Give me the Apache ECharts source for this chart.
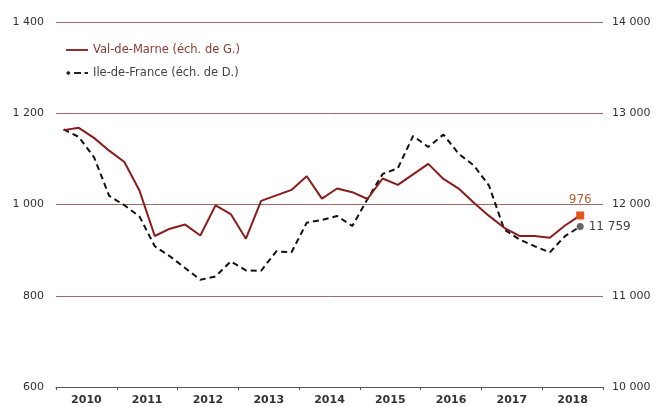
<!DOCTYPE html>
<html><head><meta charset="utf-8">
<script src="https://cdn.jsdelivr.net/npm/echarts@6/dist/echarts.min.js"></script>
<style>html,body{margin:0;padding:0;background:#fff}#c{width:656px;height:407px}</style>
</head><body><div id="c"></div>
<script>
var years = ['2010','2011','2012','2013','2014','2015','2016','2017','2018'];
var quarters = [];
years.forEach(function(y){ for (var q=1;q<=4;q++) quarters.push(y+'T'+q); });
var valDeMarne = [1163,1168,1146,1118,1093,1030,931,947,956,932,998,979,925,1008,1020,1032,1062,1013,
  1035,1027,1012,1057,1043,1066,1089,1056,1035,1004,975,949,931,931,927,954,976,null];
var ileDeFrance = [12824,12740,12519,12095,11992,11867,11543,11432,11304,11175,11211,11377,11278,11274,11487,11476,11801,11830,
  11874,11764,12059,12335,12398,12751,12630,12766,12556,12427,12206,11727,11617,11543,11476,11653,11759,null];
var leftTicks = [600,800,1000,1200,1400];
var rightTicks = [10000,11000,12000,13000,14000];
var labelVal = '976', labelIdf = '11 759';

function fmt(v){ return String(v).replace(/\B(?=(\d{3})+(?!\d))/g,' '); }
var font = 'DejaVu Sans';
var last = 34;
var valData = valDeMarne.map(function(v,i){
  if (i===last) return {value:v, symbol:'rect', symbolSize:8, itemStyle:{color:'#e2571e'},
    label:{show:true, position:'top', distance:6, formatter:labelVal, color:'#b8602e', fontSize:12, fontFamily:font}};
  return v;
});
var idfData = ileDeFrance.map(function(v,i){
  if (i===last) return {value:v, symbol:'circle', symbolSize:7, itemStyle:{color:'#666'},
    label:{show:true, position:'right', distance:5, formatter:labelIdf, color:'#444', fontSize:12, fontFamily:font}};
  return v;
});
var chart = echarts.init(document.getElementById('c'));
chart.setOption({
  animation:false,
  backgroundColor:'#fff',
  grid:{left:56, right:53, top:22, bottom:20},
  legend:{
    orient:'vertical', left:61, top:39, itemGap:11, itemWidth:22, itemHeight:12,
    symbolKeepAspect:true,
    textStyle:{fontFamily:font, fontSize:11.5},
    data:[{name:'Val-de-Marne (éch. de G.)', icon:'path://M0,0 L24,0 L24,2 L0,2 Z',
           itemStyle:{color:'#8b1c1c'}, textStyle:{color:'#8b3a32'}},
          {name:'Ile-de-France (éch. de D.)',
           icon:'path://M0,2 L2,0 L4,2 L2,4 Z M7,1.2 L13,1.2 L13,2.8 L7,2.8 Z M16,1.2 L19,1.2 L19,2.8 L16,2.8 Z',
           itemStyle:{color:'#222'}, textStyle:{color:'#444'}}]
  },
  xAxis:[{
    type:'category', data:years, boundaryGap:true, position:'bottom',
    axisLine:{show:true, lineStyle:{color:'#555', width:1}},
    axisTick:{show:true, length:3, lineStyle:{color:'#555'}},
    axisLabel:{fontFamily:font, fontSize:11, fontWeight:'bold', color:'#333', margin:8},
    splitLine:{show:false}
  },{
    type:'category', data:quarters, boundaryGap:true, show:false
  }],
  yAxis:[{
    type:'value', min:600, max:1400, interval:200, position:'left',
    axisLine:{show:false}, axisTick:{show:false},
    axisLabel:{fontFamily:font, fontSize:11, color:'#333', margin:12, formatter:fmt},
    splitLine:{show:true, lineStyle:{color:'#9a6c68', width:1}}
  },{
    type:'value', min:10000, max:14000, interval:1000, position:'right',
    axisLine:{show:false}, axisTick:{show:false},
    axisLabel:{fontFamily:font, fontSize:11, color:'#333', margin:9, formatter:fmt},
    splitLine:{show:false}
  }],
  series:[{
    name:'Val-de-Marne (éch. de G.)', type:'line', xAxisIndex:1, yAxisIndex:0,
    data:valData, symbol:'none', showSymbol:true,
    lineStyle:{color:'#8b1c1c', width:2}, itemStyle:{color:'#8b1c1c'}, z:3
  },{
    name:'Ile-de-France (éch. de D.)', type:'line', xAxisIndex:1, yAxisIndex:1,
    data:idfData, symbol:'none', showSymbol:true,
    lineStyle:{color:'#111', width:2, type:[6,4]}, itemStyle:{color:'#111'}, z:2
  }]
});
</script></body></html>
